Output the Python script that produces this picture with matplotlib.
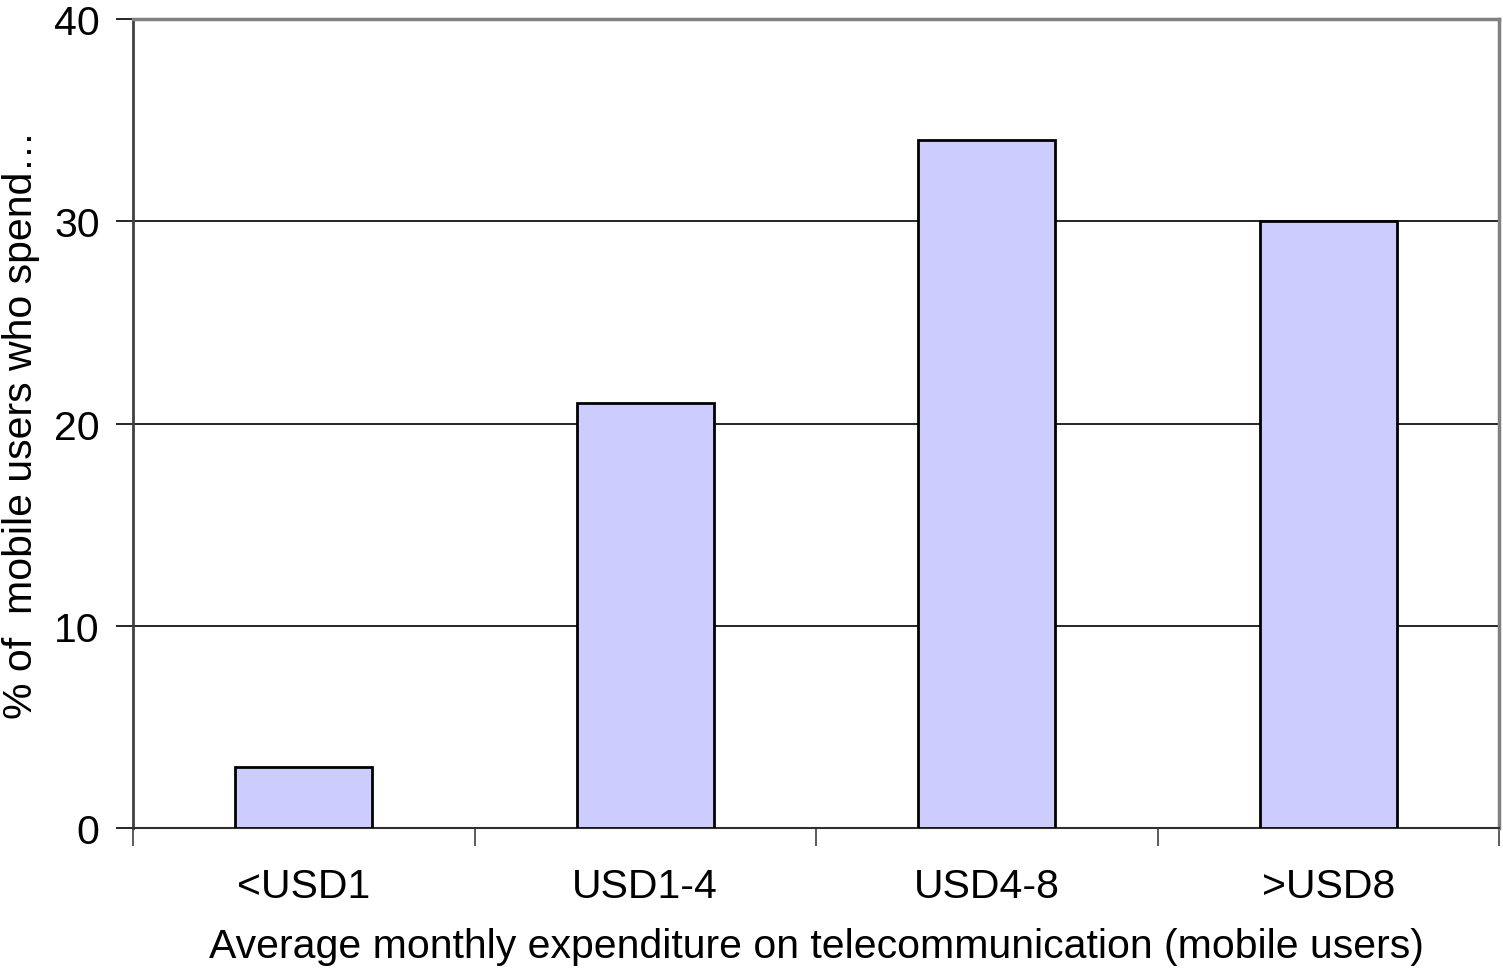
import matplotlib
matplotlib.use("Agg")
import matplotlib.pyplot as plt
import numpy as np

categories = ["<USD1", "USD1-4", "USD4-8", ">USD8"]
shares = [3, 21, 34, 30]
y_ticks = [0, 10, 20, 30, 40]

plt.rcParams['font.family'] = ['Liberation Sans', 'DejaVu Sans']
FS = 29.5

fig = plt.figure(figsize=(15.03, 9.78), dpi=100)
ax = fig.add_axes([133 / 1503, 1 - 829 / 978, 1366 / 1503, 809 / 978])

x = np.arange(len(categories))
ax.bar(x, shares, width=0.4, color="#ccccff", edgecolor="black", linewidth=2, zorder=3)

ax.set_xlim(-0.5, len(categories) - 0.5)
ax.set_ylim(0, 40)
ax.set_yticks(y_ticks)
ax.set_yticklabels([str(v) for v in y_ticks], fontsize=FS)
ax.yaxis.grid(True, color="black", linewidth=1.2, zorder=0)

# category labels centred under bars, tick marks on category boundaries
ax.set_xticks(x)
ax.set_xticklabels(categories, fontsize=FS)
ax.tick_params(axis="x", length=0, pad=28)
ax.set_xticks(np.arange(-0.5, len(categories)), minor=True)
ax.tick_params(axis="x", which="minor", length=13, width=1.2, color="#404040", direction="out")
ax.tick_params(axis="y", length=12, width=1.2, color="black", direction="out", pad=12)

for side in ("top", "right"):
    ax.spines[side].set_color("#808080")
    ax.spines[side].set_linewidth(2.5)
ax.spines["left"].set_color("#404040")
ax.spines["left"].set_linewidth(2)
ax.spines["bottom"].set_color("#303030")
ax.spines["bottom"].set_linewidth(1.5)

ax.set_xlabel("Average monthly expenditure on telecommunication (mobile users)", fontsize=FS, labelpad=16)
ax.set_ylabel("% of  mobile users who spend\u2026", fontsize=FS)
ax.yaxis.set_label_coords(-0.068, 0.5)

fig.savefig("out.png", dpi=100)
